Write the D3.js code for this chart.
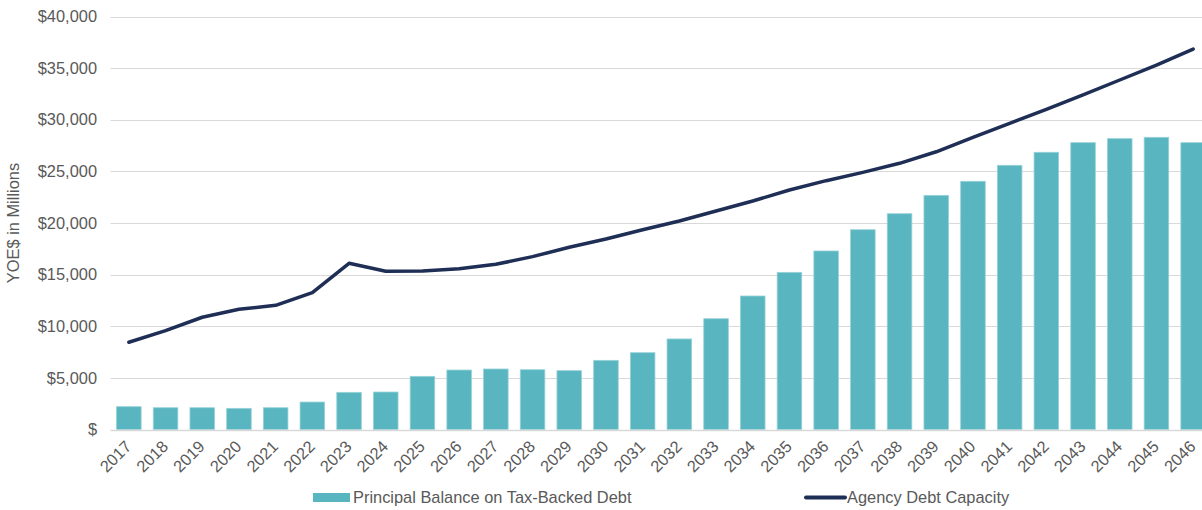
<!DOCTYPE html>
<html>
<head>
<meta charset="utf-8">
<script src="https://cdn.jsdelivr.net/npm/d3@7"></script>
<style>
  html, body { margin: 0; padding: 0; background: #fff; overflow: hidden; }
  svg { display: block; font-family: "Liberation Sans", Arial, sans-serif; }
</style>
</head>
<body>
<svg id="chart" width="1202" height="510"></svg>
<script>
const years = ["2017","2018","2019","2020","2021","2022","2023","2024","2025","2026","2027","2028","2029","2030","2031","2032","2033","2034","2035","2036","2037","2038","2039","2040","2041","2042","2043","2044","2045","2046"];
const principalBalance = [2210, 2110, 2110, 2050, 2110, 2660, 3600, 3630, 5150, 5760, 5860, 5790, 5700, 6700, 7440, 8770, 10730, 12930, 15220, 17290, 19350, 20900, 22680, 24040, 25590, 26850, 27780, 28170, 28300, 27780];
const agencyDebtCapacity = [8450, 9570, 10870, 11640, 12030, 13250, 16100, 15320, 15350, 15570, 16000, 16740, 17650, 18450, 19350, 20190, 21160, 22130, 23200, 24100, 24900, 25780, 26900, 28300, 29660, 31010, 32400, 33850, 35300, 36850];
const yTicks = [0, 5000, 10000, 15000, 20000, 25000, 30000, 35000, 40000];
const seriesNames = ["Principal Balance on Tax-Backed Debt", "Agency Debt Capacity"];

const barColor = "#59B5BF";
const lineColor = "#1E2E55";
const textColor = "#595959";
const gridColor = "#D9D9D9";
const fs = 16.4;

const svg = d3.select("#chart");
const plotLeft = 110.5, plotRight = 1211.5, plotTop = 16.5, plotBottom = 429.5;

const x = d3.scaleBand().domain(years).range([plotLeft, plotRight]).paddingInner(0.33).paddingOuter(0.165);
const y = d3.scaleLinear().domain([0, 40000]).range([plotBottom, plotTop]);

// gridlines
svg.append("g").selectAll("line").data(yTicks.slice(1)).join("line")
  .attr("x1", plotLeft).attr("x2", 1202)
  .attr("y1", d => Math.round(y(d)) + 0.5).attr("y2", d => Math.round(y(d)) + 0.5)
  .attr("stroke", gridColor).attr("stroke-width", 1);

// y tick labels
const fmt = d3.format(",");
svg.append("g").selectAll("text").data(yTicks).join("text")
  .attr("x", 97).attr("y", d => y(d)).attr("dy", "0.35em")
  .attr("text-anchor", "end").attr("fill", textColor).attr("font-size", fs)
  .text(d => d === 0 ? "$" : "$" + fmt(d));

// y axis title
svg.append("text")
  .attr("transform", `translate(19,${(plotTop + plotBottom) / 2}) rotate(-90)`)
  .attr("text-anchor", "middle").attr("fill", textColor).attr("font-size", fs)
  .text("YOE$ in Millions");

// bars
svg.append("g").selectAll("rect").data(years).join("rect")
  .attr("x", d => x(d)).attr("width", x.bandwidth())
  .attr("y", (d, i) => y(principalBalance[i]))
  .attr("height", (d, i) => y(0) - y(principalBalance[i]))
  .attr("fill", barColor).attr("stroke", "#9AD3D9").attr("stroke-width", 0.8);

// x axis line
svg.append("line")
  .attr("x1", plotLeft).attr("x2", 1202)
  .attr("y1", Math.round(y(0)) + 0.5).attr("y2", Math.round(y(0)) + 0.5)
  .attr("stroke", gridColor).attr("stroke-width", 1.5);

// line
const line = d3.line()
  .x((d, i) => x(years[i]) + x.bandwidth() / 2)
  .y(d => y(d));
svg.append("path").datum(agencyDebtCapacity)
  .attr("d", line).attr("fill", "none")
  .attr("stroke", lineColor).attr("stroke-width", 3.5)
  .attr("stroke-linecap", "round").attr("stroke-linejoin", "round");

// x labels
svg.append("g").selectAll("text").data(years).join("text")
  .attr("transform", d => `translate(${x(d) + x.bandwidth() / 2 - 0.5},${plotBottom + 14}) rotate(-45)`)
  .attr("text-anchor", "end").attr("dy", "0.35em")
  .attr("fill", textColor).attr("font-size", fs)
  .text(d => d);

// legend
const lg = svg.append("g");
lg.append("rect").attr("x", 313).attr("y", 493).attr("width", 37).attr("height", 9).attr("fill", barColor);
lg.append("text").attr("x", 353).attr("y", 497.5).attr("dy", "0.35em")
  .attr("fill", textColor).attr("font-size", fs).text(seriesNames[0]);
lg.append("line").attr("x1", 806).attr("x2", 845).attr("y1", 497.5).attr("y2", 497.5)
  .attr("stroke", lineColor).attr("stroke-width", 4).attr("stroke-linecap", "round");
lg.append("text").attr("x", 847).attr("y", 497.5).attr("dy", "0.35em")
  .attr("fill", textColor).attr("font-size", fs).text(seriesNames[1]);
</script>
</body>
</html>
